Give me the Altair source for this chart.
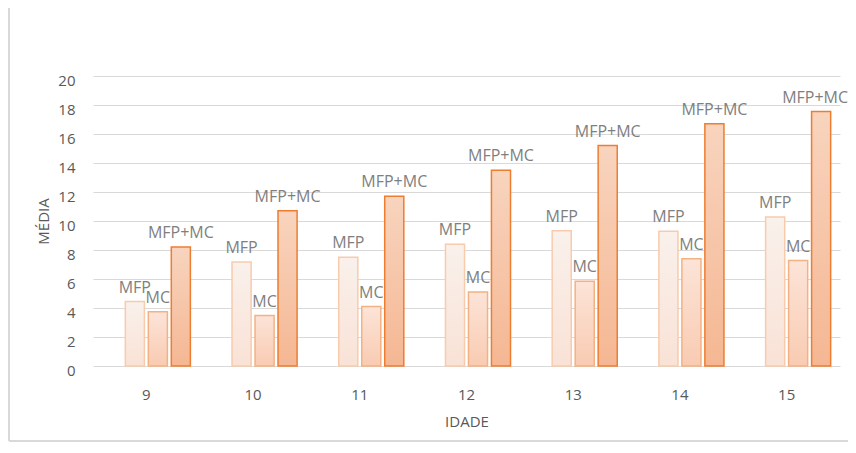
import altair as alt
import pandas as pd

idade = ["9", "10", "11", "12", "13", "14", "15"]
series = ["MFP", "MC", "MFP+MC"]
mfp = [4.44, 7.18, 7.5, 8.4, 9.33, 9.3, 10.27]
mc = [3.75, 3.48, 4.1, 5.1, 5.84, 7.4, 7.27]
mfp_mc = [8.21, 10.7, 11.7, 13.5, 15.2, 16.7, 17.55]

offset_domain = ["_", "MFP", "MC", "MFP+MC"]

rows = []
for i, a in enumerate(idade):
    rows.append({"idade": a, "serie": "MFP", "valor": mfp[i]})
    rows.append({"idade": a, "serie": "MC", "valor": mc[i]})
    rows.append({"idade": a, "serie": "MFP+MC", "valor": mfp_mc[i]})
df = pd.DataFrame(rows)

styles = {
    "MFP": ("#f9f1ec", "#f9e2d6", "#f8cbad"),
    "MC": ("#fce4d8", "#f9cbb2", "#f4b183"),
    "MFP+MC": ("#f8d4be", "#f5b793", "#ed7d31"),
}

FONT = "Open Sans"
GREY = "#595959"

x_enc = alt.X("idade:N", sort=idade,
              scale=alt.Scale(paddingInner=0.175, paddingOuter=0.0875),
              axis=alt.Axis(title="IDADE", labelAngle=0, ticks=False, domain=False,
                            labelPadding=21, titlePadding=12, labelFontSize=15,
                            titleFontSize=15, labelColor=GREY, titleColor=GREY,
                            titleFontWeight="normal", labelFont=FONT, titleFont=FONT))
xo_enc = alt.XOffset("serie:N", scale=alt.Scale(domain=offset_domain, paddingInner=0.17, paddingOuter=0))
y_enc = alt.Y("valor:Q", scale=alt.Scale(domain=[0, 20], nice=False),
              axis=alt.Axis(title="MÉDIA", values=list(range(0, 21, 2)), ticks=False,
                            domain=False, labelPadding=18, titlePadding=6,
                            labelFontSize=15, titleFontSize=15, labelColor=GREY,
                            titleColor=GREY, titleFontWeight="normal", labelOffset=4,
                            labelFont=FONT, titleFont=FONT, gridColor="#d9d9d9"))

layers = []
for s in series:
    top, bottom, stroke = styles[s]
    grad = alt.LinearGradient(gradient="linear", x1=0, x2=0, y1=0, y2=1,
                              stops=[alt.GradientStop(color=top, offset=0),
                                     alt.GradientStop(color=bottom, offset=1)])
    layers.append(
        alt.Chart(df).transform_filter(alt.datum.serie == s)
        .mark_bar(fill=grad, stroke=stroke, strokeWidth=1.5)
        .encode(x=x_enc, xOffset=xo_enc, y=y_enc)
    )

last = (alt.datum.idade == idade[-1]) & (alt.datum.serie == "MFP+MC")
labels = alt.Chart(df).transform_filter(~last).mark_text(
    baseline="alphabetic", dy=-9, fontSize=16, font=FONT, color="#7f7f7f").encode(
    x=x_enc, xOffset=xo_enc, y=y_enc, text="serie:N")
label_last = alt.Chart(df).transform_filter(last).mark_text(
    baseline="alphabetic", dy=-9, dx=-6, fontSize=16, font=FONT, color="#7f7f7f").encode(
    x=x_enc, xOffset=xo_enc, y=y_enc, text="serie:N")

frame_left = alt.Chart(df).mark_rule(color="#d9d9d9", strokeWidth=1.5).encode(
    x=alt.value(-84), y=alt.value(-68), y2=alt.value(365))
frame_bottom = alt.Chart(df).mark_rule(color="#d9d9d9", strokeWidth=1.5).encode(
    x=alt.value(-84), x2=alt.value(755), y=alt.value(365))

chart = alt.layer(*layers, labels, label_last, frame_left, frame_bottom).properties(
    width=747, height=290,
    autosize=alt.AutoSizeParams(type="none"),
    padding={"left": 85, "top": 68, "right": 8, "bottom": 76},
).configure_view(stroke=None)

chart.save("out.html", embed_options={"renderer": "svg", "actions": False})
